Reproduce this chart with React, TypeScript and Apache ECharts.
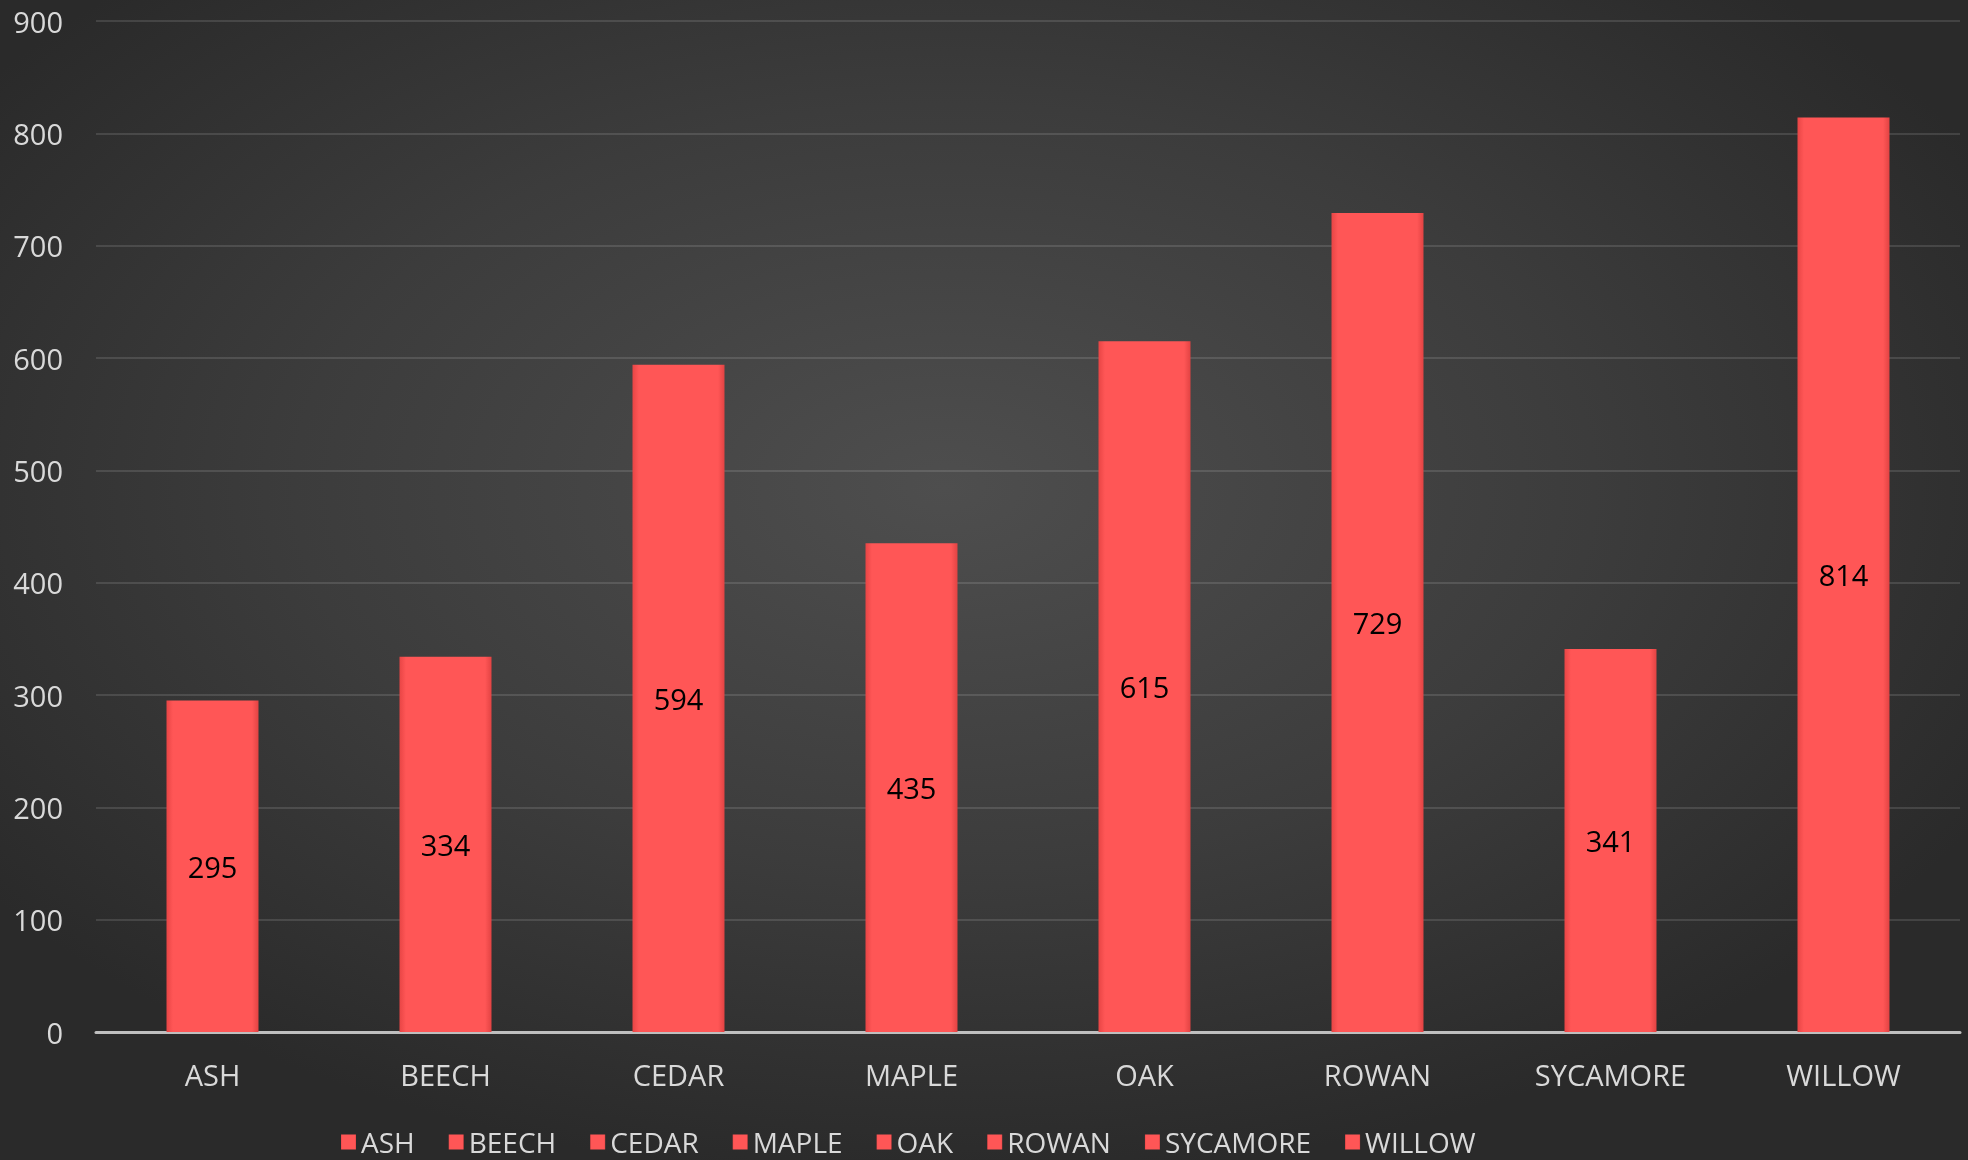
import React, { useEffect, useRef } from "react";
import * as echarts from "echarts";

const categories = ["ASH", "BEECH", "CEDAR", "MAPLE", "OAK", "ROWAN", "SYCAMORE", "WILLOW"];
const values = [295, 334, 594, 435, 615, 729, 341, 814];
const yTicks = { min: 0, max: 900, interval: 100 };

const FONT = "'Open Sans', 'Noto Sans', sans-serif";

export default function App() {
  const ref = useRef<HTMLDivElement>(null);

  useEffect(() => {
    if (!ref.current) return;
    const chart = echarts.init(ref.current, undefined, { renderer: "svg" });

    const barColor = {
      type: "linear",
      x: 0, y: 0, x2: 1, y2: 0,
      colorStops: [
        { offset: 0, color: "#e84545" },
        { offset: 0.07, color: "#ff5656" },
        { offset: 0.93, color: "#ff5656" },
        { offset: 1, color: "#e24343" },
      ],
    };

    const series = categories.map((name, i) => ({
      name,
      type: "bar",
      stack: "total",
      barWidth: 92,
      data: values.map((v, j) => (j === i ? v : null)),
      itemStyle: { color: barColor },
      label: {
        show: true,
        position: "inside",
        color: "#000000",
        fontSize: 29,
        fontFamily: FONT,
      },
      emphasis: { disabled: true },
    }));

    chart.setOption({
      animation: false,
      backgroundColor: "transparent",
      color: ["#ff5555"],
      grid: { left: 96, right: 8, top: 21, bottom: 128, containLabel: false },
      legend: {
        data: categories.map((c) => ({ name: c, icon: "rect" })),
        left: 341,
        top: 1128,
        padding: 0,
        itemWidth: 15,
        itemHeight: 15,
        itemGap: 34,
        textStyle: { color: "#d9d9d9", fontSize: 28, lineHeight: 28, fontFamily: FONT },
        selectedMode: false,
      },
      xAxis: {
        type: "category",
        data: categories,
        axisLine: { show: true, lineStyle: { color: "#bfbfbf", width: 3 } },
        axisTick: { show: false },
        axisLabel: { color: "#d9d9d9", fontSize: 29, fontFamily: FONT, margin: 28 },
      },
      yAxis: {
        type: "value",
        min: yTicks.min,
        max: yTicks.max,
        interval: yTicks.interval,
        axisLine: { show: false },
        axisTick: { show: false },
        axisLabel: { color: "#d9d9d9", fontSize: 29, fontFamily: FONT, margin: 33 },
        splitLine: { lineStyle: { color: "rgba(255,255,255,0.12)", width: 2 } },
      },
      series,
    });

    return () => chart.dispose();
  }, []);

  return (
    <div
      style={{
        position: "fixed",
        left: 0,
        top: 0,
        width: 1968,
        height: 1160,
        background:
          "radial-gradient(ellipse 60% 60% at 48% 42%, #4e4e4e 0%, #3c3c3c 55%, #2a2a2a 100%)",
      }}
    >
      <div ref={ref} style={{ width: 1968, height: 1160 }} />
    </div>
  );
}
